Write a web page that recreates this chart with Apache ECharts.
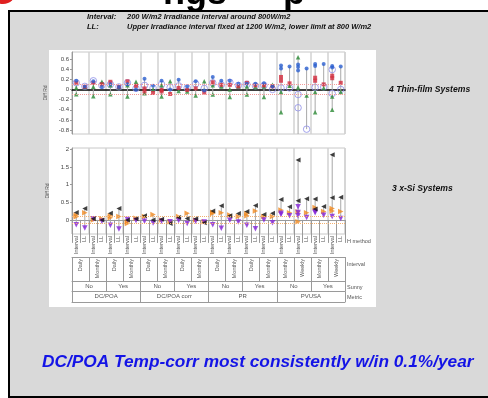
<!DOCTYPE html>
<html>
<head>
<meta charset="utf-8">
<script src="https://cdn.jsdelivr.net/npm/echarts@6/dist/echarts.min.js"></script>
<style>
  html, body { margin: 0; padding: 0; background: #fff; }
  #main { width: 488px; height: 398px; }
</style>
</head>
<body>
<div id="main"></div>
<script>
var FONT = '"Liberation Sans", Arial, sans-serif';

// table rows under the plots
var hMethodLabels = [];
for (var k = 0; k < 16; k++) { hMethodLabels.push('Interval', 'LL'); }
var intervalLabels = ['Daily', 'Monthly', 'Daily', 'Monthly', 'Daily', 'Monthly', 'Daily', 'Monthly',
                      'Daily', 'Monthly', 'Daily', 'Monthly', 'Monthly', 'Weekly', 'Monthly', 'Weekly'];
var sunnyLabels = ['No', 'Yes', 'No', 'Yes', 'No', 'Yes', 'No', 'Yes'];
var metricLabels = ['DC/POA', 'DC/POA corr', 'PR', 'PVUSA'];

var tfTicks = [-0.8, -0.6, -0.4, -0.2, 0, 0.2, 0.4, 0.6];
var siTicks = [0, 0.5, 1, 1.5, 2];

// 4 thin-film systems, values per category
var tfBlue = [[0.17],[0.06],[0.16],[0.05],[0.1],[0.05],[0.1],[0.0],
              [0.21],[0.07],[0.17],[0.0],[0.19],[0.06],[0.16],[-0.02],
              [0.245],[0.17],[0.17],[0.11],[0.11],[0.11],[0.12],[0.06],
              [0.47,0.41],[0.45],[0.49,0.44,0.37],[0.41],[0.5,0.46],[0.5],[0.46,0.43],[0.45]];
var tfRed = [[0.13],[0.05],[0.13],[0.1],[0.15],[0.05],[0.16],[0.07],
             [0.02,-0.04],[-0.07],[-0.01,-0.04],[-0.09],[0.03],[-0.01],[0.02],[-0.06],
             [0.14],[0.09],[0.09],[0.06],[0.13],[0.08],[0.08],[0.06],
             [0.245,0.17],[0.12],[],[],[0.23,0.17],[0.1],[0.27,0.22],[0.13]];
var tfGreen = [[0.035,-0.095],[0.05],[0.055,-0.135],[0.15],[0.08,-0.095],[0.05],[0.08,-0.14],[0.15],
               [-0.075],[0.0],[0.08,-0.14],[0.16],[-0.03],[-0.04],[-0.12],[0.16],
               [0.08,-0.1],[0.06],[0.0,-0.15],[0.06],[0.06,-0.1],[0.05],[0.06,-0.15],[0.09],
               [-0.05,-0.45],[0.07],[0.63,0.04],[-0.12],[-0.05,-0.45],[0.03],[-0.14,-0.4],[-0.05]];
var tfHollow = [[0.13],[0.06],[0.17],[0.08],[0.1],[0.05],[0.13],[0.02],
                [0.08],[0.03],[0.1],[0.04],[0.07],[0.03],[0.11],[0.02],
                [0.13],[0.09],[0.14],[0.08],[0.1],[0.07],[0.08],[0.0],
                [0.03],[0.03],[-0.1,-0.36,-0.95],[-0.78],[0.04],[0.05],[0.39,-0.08],[0.0]];

// 3 x-Si systems
var siBlack = [[0.21],[0.32],[0.03],[0.0],[0.19],[0.32],[0.0],[0.03],
               [0.12],[0.0],[0.02],[-0.1],[0.07],[0.04],[0.03],[-0.08],
               [0.25],[0.4],[0.12],[0.18],[0.24],[0.41],[0.15],[0.19],
               [0.58],[0.37],[1.7,0.54],[0.6],[0.59,0.31],[0.38],[1.85,0.63],[0.64]];
var siOrange = [[0.14,0.09],[0.2],[0.0],[0.03],[0.12,0.06],[0.1],[-0.1,-0.05],[0.05],
                [0.1],[0.15],[0.0],[-0.05],[0.1],[0.19],[0.0],[-0.05],
                [0.22,0.18],[0.2],[0.14],[0.1],[0.18,0.12],[0.25],[0.1],[0.1],
                [0.28],[0.2],[0.23,-0.05],[0.2],[0.35],[0.24],[0.32,0.25],[0.24]];
var siPurple = [[-0.14],[-0.23],[0.03],[-0.04],[-0.15],[-0.26],[0.01],[-0.02],
                [-0.04],[-0.09],[-0.04],[-0.05],[-0.02],[-0.1],[-0.04],[-0.06],
                [-0.14],[-0.24],[-0.01],[-0.06],[-0.15],[-0.25],[0.0],[-0.08],
                [0.19,0.15],[0.12],[0.37,0.21,0.12],[0.07],[0.24,0.2],[0.13],[0.1],[0.04]];

function flat(lists) {
  var out = [];
  lists.forEach(function(vals, i) {
    vals.forEach(function(v) { out.push([i, v]); });
  });
  return out;
}
function ranges(groups) {
  var out = [];
  for (var i = 0; i < groups[0].length; i++) {
    var all = [];
    groups.forEach(function(g) { all = all.concat(g[i]); });
    if (all.length) out.push([i, Math.min.apply(null, all), Math.max.apply(null, all)]);
  }
  return out;
}
function whisker(params, api) {
  var a = api.coord([api.value(0), api.value(1)]);
  var b = api.coord([api.value(0), api.value(2)]);
  return { type: 'line', shape: { x1: a[0], y1: a[1], x2: b[0], y2: b[1] },
           style: { stroke: '#a8a8a8', lineWidth: 1 } };
}
var evenSplit = function(idx) { return idx % 2 === 0; };

var myChart = echarts.init(document.getElementById('main'));

function txt(text, x, y, size, color, extra) {
  var st = { text: text, x: x, y: y, fill: color || '#111',
             font: (extra || 'italic bold') + ' ' + size + 'px ' + FONT,
             textAlign: 'left', align: 'left', textVerticalAlign: 'middle', verticalAlign: 'middle' };
  return { type: 'text', z: 5, silent: true, style: st };
}

var cellLine = { lineStyle: { color: '#9a9a9a', width: 1 } };
var tableLabel = { fontSize: 5.5, color: '#555', interval: 0, margin: 2 };

var option = {
  animation: false,
  textStyle: { fontFamily: FONT },
  graphic: [
    { type: 'circle', z: -20, silent: true, shape: { cx: 3, cy: -9, r: 13 }, style: { fill: '#e02020' } },
    { type: 'text', z: -20, silent: true, style: { text: 'ngs', x: 163, y: 12, font: 'bold 36px ' + FONT, fill: '#000', textVerticalAlign: 'bottom', verticalAlign: 'bottom' } },
    { type: 'text', z: -20, silent: true, style: { text: 'p', x: 283, y: 12, font: 'bold 36px ' + FONT, fill: '#000', textVerticalAlign: 'bottom', verticalAlign: 'bottom' } },
    { type: 'rect', z: -15, silent: true, shape: { x: 9, y: 11, width: 490, height: 386 },
      style: { fill: '#d9d9d9', stroke: '#000', lineWidth: 2 } },
    { type: 'rect', z: -10, silent: true, shape: { x: 49, y: 50, width: 327, height: 257 }, style: { fill: '#fff' } },
    txt('Interval:', 87, 17, 7.5),
    txt('200 W/m2 Irradiance interval around 800W/m2', 127, 17, 7.5),
    txt('LL:', 87, 27, 7.5),
    txt('Upper Irradiance interval fixed at 1200 W/m2, lower limit at 800 W/m2', 127, 27, 7.5),
    txt('4 Thin-film Systems', 389, 90, 8.6),
    txt('3 x-Si Systems', 392, 189, 8.6),
    txt('H method', 347, 241, 5.5, '#555', 'normal'),
    txt('Interval', 347, 264, 5.5, '#555', 'normal'),
    txt('Sunny', 347, 287, 5.5, '#555', 'normal'),
    txt('Metric', 347, 297, 5.5, '#555', 'normal'),
    txt('DC/POA Temp-corr most consistently w/in 0.1%/year', 42, 362, 17.3, '#1414e6')
  ],
  grid: [
    { left: 72, top: 52, width: 273, height: 82, show: true, borderColor: '#c8c8c8', borderWidth: 1 },
    { left: 72, top: 148, width: 273, height: 86, show: true, borderColor: '#c8c8c8', borderWidth: 1 }
  ],
  xAxis: [
    { type: 'category', gridIndex: 0, data: hMethodLabels,
      axisLine: { lineStyle: { color: '#000', width: 1.5 } },
      axisTick: { show: false }, axisLabel: { show: false },
      splitLine: { show: true, interval: evenSplit, lineStyle: { color: '#d2d2d2', width: 1.5 } } },
    { type: 'category', gridIndex: 1, data: hMethodLabels, position: 'bottom', offset: 0,
      axisLine: cellLine, axisTick: { show: true, interval: 0, length: 23, lineStyle: cellLine.lineStyle },
      axisLabel: Object.assign({ rotate: 90 }, tableLabel),
      splitLine: { show: true, interval: evenSplit, lineStyle: { color: '#d2d2d2', width: 1.5 } } },
    { type: 'category', gridIndex: 1, data: intervalLabels, position: 'bottom', offset: 23,
      axisLine: cellLine, axisTick: { show: true, interval: 0, length: 24, lineStyle: cellLine.lineStyle },
      axisLabel: Object.assign({ rotate: 90 }, tableLabel) },
    { type: 'category', gridIndex: 1, data: sunnyLabels, position: 'bottom', offset: 47,
      axisLine: cellLine, axisTick: { show: true, interval: 0, length: 10.5, lineStyle: cellLine.lineStyle },
      axisLabel: Object.assign({}, tableLabel, { fontSize: 6 }) },
    { type: 'category', gridIndex: 1, data: metricLabels, position: 'bottom', offset: 57.5,
      axisLine: cellLine, axisTick: { show: true, interval: 0, length: 10.5, lineStyle: cellLine.lineStyle },
      axisLabel: Object.assign({}, tableLabel, { fontSize: 6 }) },
    { type: 'category', gridIndex: 1, data: [''], position: 'bottom', offset: 68,
      axisLine: cellLine, axisTick: { show: false }, axisLabel: { show: false } }
  ],
  yAxis: [
    { type: 'value', gridIndex: 0, min: -0.875, max: 0.735,
      name: 'Diff Rd', nameLocation: 'middle', nameGap: 4, nameTextStyle: { fontSize: 5, color: '#555' },
      axisLine: { show: true, lineStyle: { color: '#999' } },
      axisTick: { show: true, length: 2, customValues: tfTicks, lineStyle: { color: '#999' } },
      axisLabel: { fontSize: 6, color: '#444', margin: 3, customValues: tfTicks,
                   formatter: function(v) { return String(+v.toFixed(1)); } },
      splitLine: { show: false } },
    { type: 'value', gridIndex: 1, min: -0.4, max: 2.04,
      name: 'Diff Rd', nameLocation: 'middle', nameGap: 4, nameTextStyle: { fontSize: 5, color: '#555' },
      axisLine: { show: true, lineStyle: { color: '#999' } },
      axisTick: { show: true, length: 2, customValues: siTicks, lineStyle: { color: '#999' } },
      axisLabel: { fontSize: 6, color: '#444', margin: 3, customValues: siTicks,
                   formatter: function(v) { return String(+v.toFixed(1)); } },
      splitLine: { show: false } }
  ],
  series: [
    { type: 'custom', xAxisIndex: 0, yAxisIndex: 0, clip: true, renderItem: whisker,
      data: ranges([tfBlue, tfRed, tfGreen, tfHollow]),
      markLine: { silent: true, symbol: 'none', label: { show: false },
                  lineStyle: { color: '#f39a9a', type: 'dotted', width: 1 },
                  data: [{ yAxis: 0.1 }, { yAxis: -0.1 }] } },
    { type: 'scatter', xAxisIndex: 0, yAxisIndex: 0, data: flat(tfHollow), symbol: 'circle', symbolSize: 6.5,
      itemStyle: { color: 'rgba(0,0,0,0)', borderColor: '#8f8fe8', borderWidth: 1 } },
    { type: 'scatter', xAxisIndex: 0, yAxisIndex: 0, data: flat(tfGreen), symbol: 'triangle', symbolSize: 4.5,
      itemStyle: { color: '#2a8a35' } },
    { type: 'scatter', xAxisIndex: 0, yAxisIndex: 0, data: flat(tfRed), symbol: 'rect', symbolSize: 4,
      itemStyle: { color: '#d22a3c' } },
    { type: 'scatter', xAxisIndex: 0, yAxisIndex: 0, data: flat(tfBlue), symbol: 'circle', symbolSize: 4,
      itemStyle: { color: '#2a5fd0' } },
    { type: 'custom', xAxisIndex: 1, yAxisIndex: 1, clip: true, renderItem: whisker,
      data: ranges([siBlack, siOrange, siPurple]),
      markLine: { silent: true, symbol: 'none', label: { show: false },
                  lineStyle: { color: '#f2b070', type: 'dotted', width: 1 },
                  data: [{ yAxis: 0.1 }, { yAxis: -0.1 }] } },
    { type: 'scatter', xAxisIndex: 1, yAxisIndex: 1, data: flat(siOrange), symbol: 'triangle', symbolRotate: -90,
      symbolSize: 5.5, itemStyle: { color: '#f08a20' } },
    { type: 'scatter', xAxisIndex: 1, yAxisIndex: 1, data: flat(siPurple), symbol: 'triangle', symbolRotate: 180,
      symbolSize: 5.5, itemStyle: { color: '#8424d8' } },
    { type: 'scatter', xAxisIndex: 1, yAxisIndex: 1, data: flat(siBlack), symbol: 'triangle', symbolRotate: 90,
      symbolSize: 5, itemStyle: { color: '#111' } }
  ]
};
myChart.setOption(option);
</script>
</body>
</html>
